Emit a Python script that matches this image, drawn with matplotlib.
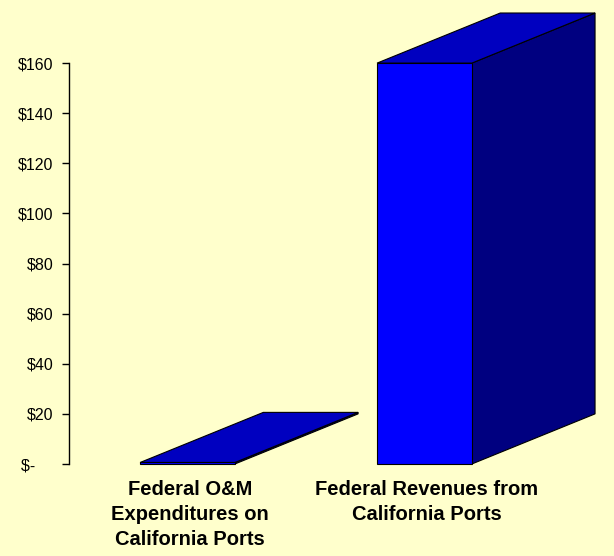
import matplotlib.pyplot as plt
from matplotlib.patches import Polygon

plt.rcParams['font.family'] = ['Liberation Sans', 'DejaVu Sans']

categories = ['Federal O&M\nExpenditures on\nCalifornia Ports',
              'Federal Revenues from\nCalifornia Ports']
values = [0.6, 160]
yticks = [0, 20, 40, 60, 80, 100, 120, 140, 160]
ytick_labels = ['$-    ', '$20', '$40', '$60', '$80', '$100', '$120', '$140', '$160']

bg = '#FFFFCC'
front_col = '#0000FF'
top_col = '#0000C0'
side_col = '#000080'

fig = plt.figure(figsize=(6.14, 5.56), dpi=100, facecolor=bg)
ax = fig.add_axes([69 / 614, 92 / 556, 545 / 614, 451 / 556])
ax.set_facecolor(bg)
ax.set_xlim(-0.5, 1.8)
ax.set_ylim(0, 180)

width = 0.4
dx, dy = 0.52, 20
for i, v in enumerate(values):
    x0, x1 = i - width / 2, i + width / 2
    front = [(x0, 0), (x1, 0), (x1, v), (x0, v)]
    top = [(x0, v), (x1, v), (x1 + dx, v + dy), (x0 + dx, v + dy)]
    side = [(x1, 0), (x1 + dx, dy), (x1 + dx, v + dy), (x1, v)]
    for pts, col in [(side, side_col), (top, top_col), (front, front_col)]:
        ax.add_patch(Polygon(pts, closed=True, facecolor=col,
                             edgecolor='black', linewidth=0.8, clip_on=False))

ax.set_yticks(yticks)
ax.set_yticklabels(ytick_labels, fontsize=11.5)
ax.tick_params(axis='y', length=5, width=1, pad=6, colors='black')
ax.set_xticks([])
for s in ['top', 'right', 'bottom']:
    ax.spines[s].set_visible(False)
ax.spines['left'].set_bounds(0, 160)
ax.spines['left'].set_linewidth(1)

for i, lab in enumerate(categories):
    ax.text(i + 0.01, -6.5, lab, ha='center', va='top', fontsize=14.5,
            fontweight='bold', linespacing=1.4)

fig.savefig('out.png', dpi=100, facecolor=bg)
